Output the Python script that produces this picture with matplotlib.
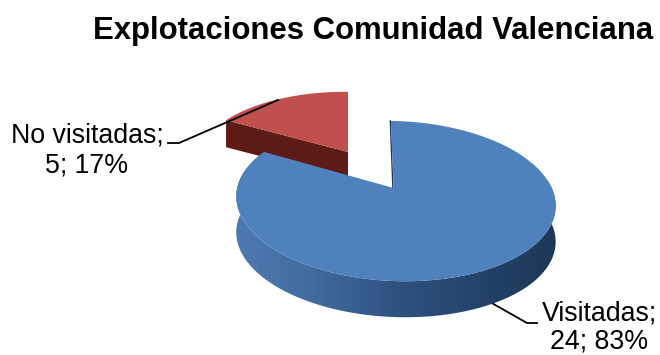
import numpy as np
import matplotlib
matplotlib.use("Agg")
import matplotlib.pyplot as plt
from matplotlib.colors import LinearSegmentedColormap
from matplotlib.path import Path
from matplotlib.transforms import Transform, Affine2D
from matplotlib.patches import Polygon

labels = ["Visitadas", "No visitadas"]
values = [24, 5]
percents = [83, 17]
title = "Explotaciones Comunidad Valenciana"
top_colors = ["#4f81bd", "#c0504d"]

plt.rcParams['font.family'] = ['Liberation Sans', 'DejaVu Sans']


class Perspective(Transform):
    """Unit-disc coordinates to figure pixels, tilted with perspective."""
    input_dims = output_dims = 2
    has_inverse = False
    is_separable = False

    def __init__(self, ox, oy, rx, ry, b=0.1625, c=-0.012, sx=-3.0, sy=3.0):
        super().__init__()
        self.p = (ox, oy, rx, ry, b, c, sx, sy)

    def transform_non_affine(self, xy):
        xy = np.asarray(xy, float)
        ox, oy, rx, ry, b, c, sx, sy = self.p
        u, v = xy[:, 0], xy[:, 1]
        w = 1 + b * v + c * u
        return np.column_stack([ox + (rx * u + sx * v) / w,
                                oy - (ry * v - sy * u) / w])

    def transform_path_non_affine(self, path):
        flat = path.transformed(Affine2D().scale(300)).to_polygons(closed_only=False)
        return Path(self.transform_non_affine(flat[0] / 300))


fig = plt.figure(figsize=(6.6, 3.55), dpi=100, facecolor="white")
ax = fig.add_axes([0, 0, 1, 1])

start_angle = 90
wedges, _ = ax.pie(values, startangle=start_angle, counterclock=False, colors=top_colors, radius=1)
ax.set_aspect("auto")
ax.set_xlim(0, 660)
ax.set_ylim(355, 0)
ax.axis("off")
ax.autoscale(False)

blue_p = Perspective(393.5, 188, 157.5, 78)
red_p = Perspective(348, 152, 150, 70, sx=0, sy=2)
blue, red = wedges
blue.set_transform(blue_p + ax.transData)
red.set_transform(red_p + ax.transData)
for w in wedges:
    w.set_linewidth(0)
blue.set_zorder(5)
red.set_zorder(2)


def pt(P, deg, r=1.0):
    return P.transform_non_affine(
        np.array([[r * np.cos(np.radians(deg)), r * np.sin(np.radians(deg))]]))[0]


# boundary between the two slices, taken from the values
cut = start_angle + 360 * values[1] / sum(values)

# red wedge cut face (the edge that faces the viewer)
red_depth = 27
p0, p1 = pt(red_p, cut), pt(red_p, cut, 0)
ax.add_patch(Polygon([p0, p1, p1 + (0, red_depth), p0 + (0, red_depth)],
                     closed=True, fc="#5e1b16", ec="none", zorder=1))

# blue wedge outer wall, one gradient clipped to the wall's outline
depth = 36
angles = np.linspace(cut, 368, 300)
rim = np.array([pt(blue_p, a) for a in angles])
wall = Polygon(np.vstack([rim, (rim + (0, depth))[::-1]]), closed=True,
               transform=ax.transData, fc="none", ec="none")
ax.add_patch(wall)
wall_cmap = LinearSegmentedColormap.from_list(
    "wall", ["#4d7cb4", "#426c9e", "#2f5280", "#24426a", "#1b3554"])
im = ax.imshow(np.linspace(0, 1, 340).reshape(1, -1), cmap=wall_cmap, aspect="auto",
               extent=(226, 566, 330, 150), interpolation="bilinear", zorder=3)
im.set_clip_path(wall)
ax.set_xlim(0, 660)
ax.set_ylim(355, 0)

# thin dark edge of the blue wedge's first cut
e0, e1 = pt(blue_p, start_angle), pt(blue_p, start_angle, 0)
ax.plot([e0[0] - 0.6, e1[0] - 0.6], [e0[1], e1[1]], color="#1f3a5c", lw=1.0, zorder=4)

# leader lines
ax.plot([168, 179, 278], [143, 143, 100], color="black", lw=1.3, zorder=6, solid_joinstyle="miter")
ax.plot([490, 527, 537], [302, 323, 323], color="black", lw=1.3, zorder=2.5, solid_joinstyle="miter")

ax.text(87, 150.5, f"{labels[1]};\n{values[1]}; {percents[1]}%", ha="center", va="center",
        fontsize=19.3, color="black", linespacing=1.17, zorder=7)
ax.text(599, 327.5, f"{labels[0]};\n{values[0]}; {percents[0]}%", ha="center", va="center",
        fontsize=19.3, color="black", linespacing=1.1, zorder=7, clip_on=False)
ax.text(93, 31, title, ha="left", va="center", fontsize=22.4, fontweight="bold",
        color="black", zorder=7)

fig.savefig("out.png", dpi=100, facecolor="white")
